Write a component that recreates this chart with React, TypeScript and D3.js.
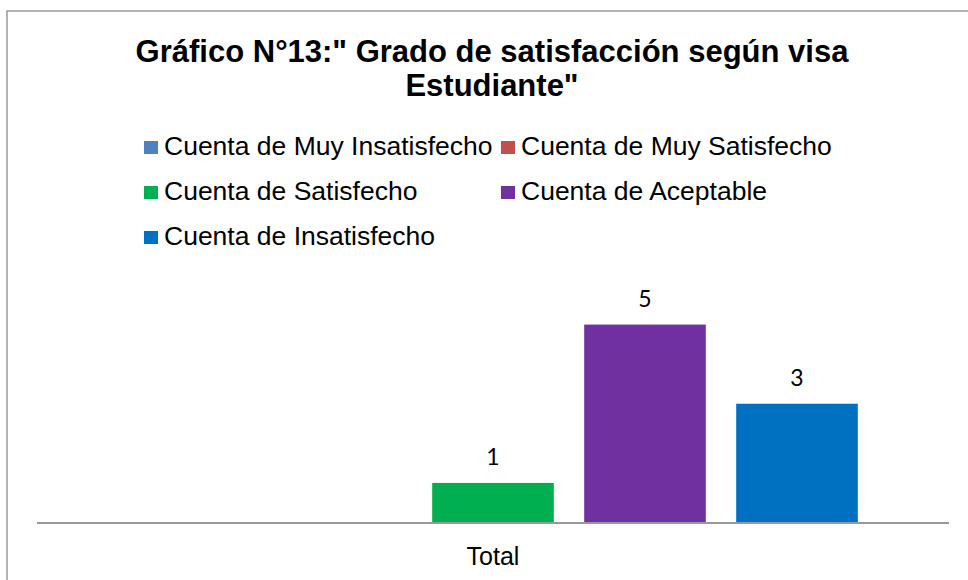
import React from 'react';
import * as d3 from 'd3';

// data
const categories = ['Total'];
const seriesNames = [
  'Cuenta de Muy Insatisfecho',
  'Cuenta de Muy Satisfecho',
  'Cuenta de Satisfecho',
  'Cuenta de Aceptable',
  'Cuenta de Insatisfecho',
];
const seriesValues: (number | null)[] = [null, null, 1, 5, 3];
const seriesColors = ['#4F81BD', '#C0504D', '#00B050', '#7030A0', '#0070C0'];
const titleLines = ['Gráfico N°13:" Grado de satisfacción según visa', 'Estudiante"'];

const W = 968;
const H = 580;
const plot = { left: 37, right: 949, top: 285, bottom: 522.5 };

const App = () => {
  const x0 = d3.scaleBand<string>().domain(categories).range([plot.left, plot.right]).paddingInner(0).paddingOuter(0.125);
  const x1 = d3.scaleBand<string>().domain(seriesNames).range([0, x0.bandwidth()]).paddingInner(0.2).paddingOuter(0);
  const y = d3.scaleLinear().domain([0, 6]).range([plot.bottom, plot.top]);

  const arial = '"Liberation Sans", Arial, sans-serif';

  return (
    <svg width={W} height={H} style={{ position: 'absolute', left: 0, top: 0, background: '#fff' }}>
      <rect x={7} y={11} width={1000} height={700} fill="#fff" stroke="#999" strokeWidth={1.5} />

      <text x={492} y={62} textAnchor="middle" fontFamily={arial} fontWeight="bold" fontSize={31} fill="#000">
        {titleLines.map((t, i) => (
          <tspan key={i} x={492} dy={i === 0 ? 0 : 34}>{t}</tspan>
        ))}
      </text>

      {seriesNames.map((name, i) => {
        const col = i % 2;
        const row = Math.floor(i / 2);
        const lx = col === 0 ? 144 : 501;
        const ly = 155 + row * 45;
        return (
          <g key={name}>
            <rect x={lx} y={ly - 14} width={14} height={13} fill={seriesColors[i]} />
            <text x={lx + 20} y={ly} fontFamily={arial} fontSize={26.5} fill="#000">{name}</text>
          </g>
        );
      })}

      {categories.map((cat) => (
        <g key={cat}>
          {seriesNames.map((name, i) => {
            const v = seriesValues[i];
            if (v == null) return null;
            const bx = (x0(cat) ?? 0) + (x1(name) ?? 0);
            return (
              <g key={name}>
                <rect x={bx} y={y(v)} width={x1.bandwidth()} height={y(0) - y(v)} fill={seriesColors[i]} />
                <text x={bx + x1.bandwidth() / 2} y={y(v) - 18} textAnchor="middle"
                  fontFamily="Lato, Carlito, Calibri, sans-serif" fontSize={23} fill="#000">{v}</text>
              </g>
            );
          })}
          <text x={(x0(cat) ?? 0) + x0.bandwidth() / 2} y={565} textAnchor="middle" fontFamily={arial} fontSize={25} fill="#000">{cat}</text>
        </g>
      ))}

      <line x1={plot.left} x2={plot.right} y1={523} y2={523} stroke="#999" strokeWidth={2} />
    </svg>
  );
};

export default App;
